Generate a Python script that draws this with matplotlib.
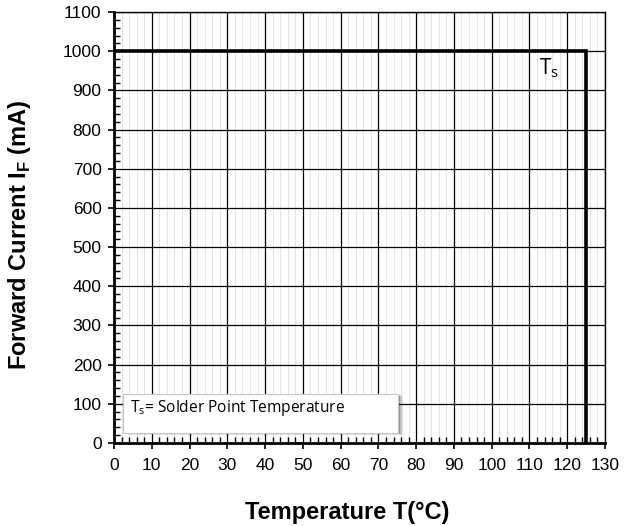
import matplotlib
matplotlib.use("Agg")
import matplotlib.pyplot as plt
from matplotlib.ticker import MultipleLocator
from matplotlib.patches import Rectangle

plt.rcParams["font.family"] = ["Liberation Sans", "DejaVu Sans"]

# derating curve: I_F vs solder point temperature
temp_c = [0, 125, 125]
current_ma = [1000, 1000, 0]

x_ticks = list(range(0, 131, 10))
y_ticks = list(range(0, 1101, 100))

fig = plt.figure(figsize=(6.24, 5.26), dpi=100)
ax = fig.add_axes([0.1827, 0.1578, 0.7869, 0.8194])

ax.set_xlim(0, 130)
ax.set_ylim(0, 1100)
ax.set_xticks(x_ticks)
ax.set_yticks(y_ticks)
ax.xaxis.set_minor_locator(MultipleLocator(2))
ax.yaxis.set_minor_locator(MultipleLocator(20))

ax.grid(which="minor", axis="x", color="#e4e4e4", lw=0.8)
ax.grid(which="major", axis="both", color="black", lw=0.9)
ax.set_axisbelow(True)

ax.tick_params(which="major", direction="out", length=4, width=1.2, labelsize=12.5)
ax.tick_params(which="minor", direction="in", length=4, width=1.0)
ax.tick_params(axis="x", pad=7)
ax.tick_params(axis="y", pad=5)

for side in ["left", "bottom"]:
    ax.spines[side].set_linewidth(2.0)
for side in ["top", "right"]:
    ax.spines[side].set_linewidth(1.0)

ax.plot(temp_c, current_ma, color="black", lw=2.6, solid_joinstyle="miter", zorder=3)

ax.text(112.6, 940, "T$_\\mathregular{s}$", ha="left", va="baseline", fontsize=15,
        family=["Open Sans", "DejaVu Sans"])

# annotation box with soft drop shadow
for i, alpha in enumerate([0.10, 0.15, 0.22]):
    off = 1.2 - i * 0.35
    ax.add_patch(Rectangle((2.4 + off, 25.5 - off * 4), 72.8, 99.5,
                           facecolor="black", edgecolor="none", alpha=alpha, zorder=4))
ax.add_patch(Rectangle((2.4, 25.5), 72.8, 99.5, facecolor="white",
                       edgecolor="#c8c8c8", lw=0.8, zorder=5))
ax.text(4.3, 89, "T$_\\mathregular{s}$= Solder Point Temperature", ha="left", va="center",
        fontsize=11.2, family=["Open Sans", "DejaVu Sans"], zorder=6)

ax.set_xlabel("Temperature T(°C)", fontsize=17, fontweight="bold")
ax.set_ylabel("Forward Current I$_\\mathregular{F}$ (mA)", fontsize=17,
              fontweight="bold")
ax.xaxis.set_label_coords(0.475, -0.135)
ax.yaxis.set_label_coords(-0.165, 0.483)

fig.savefig("out.png", dpi=100)
